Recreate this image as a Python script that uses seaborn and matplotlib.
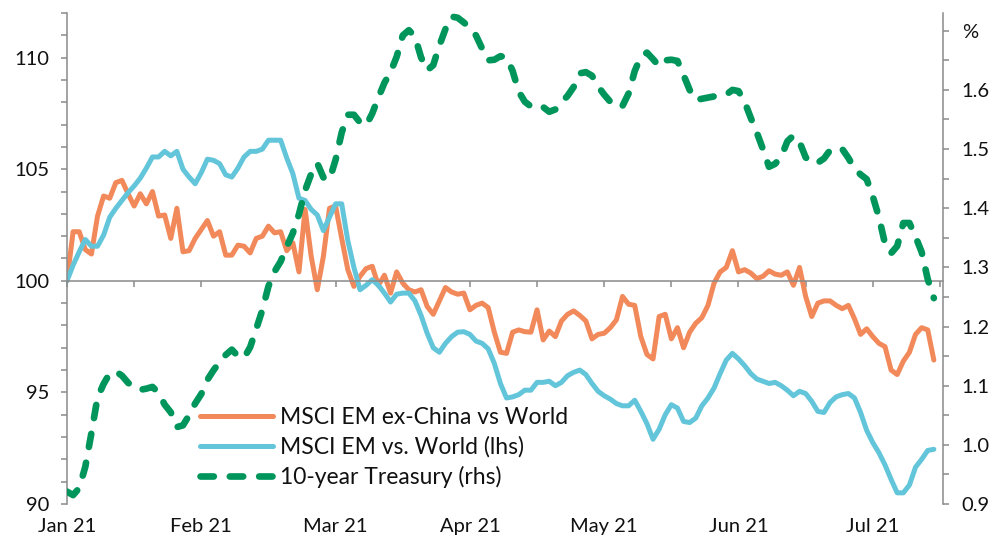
import numpy as np
import pandas as pd
import matplotlib
matplotlib.use("Agg")
import matplotlib.pyplot as plt
import seaborn as sns
from matplotlib.ticker import MultipleLocator, FixedLocator, FuncFormatter

# ---------------- data ----------------
month_labels = ["Jan 21", "Feb 21", "Mar 21", "Apr 21", "May 21", "Jun 21", "Jul 21"]
series_names = ["MSCI EM ex-China vs World", "MSCI EM vs. World (lhs)", "10-year Treasury (rhs)"]

em_ex_china = [100.0, 102.2, 102.2, 101.4, 101.2, 102.9, 103.8, 103.7, 104.4, 104.5,
               103.9, 103.35, 103.9, 103.45, 104.0, 102.9, 102.95, 101.9, 103.25, 101.3,
               101.35, 101.9, 102.3, 102.7, 102.0, 102.2, 101.15, 101.15, 101.6, 101.55,
               101.25, 101.9, 102.0, 102.45, 102.15, 102.2, 101.35, 101.7, 100.4, 103.2,
               101.1, 99.6, 101.1, 103.25, 103.35, 101.9, 100.5, 99.75, 100.2, 100.55,
               100.65, 99.8, 100.25, 99.45, 100.4, 99.9, 99.6, 99.5, 99.6, 98.85,
               98.5, 99.1, 99.7, 99.5, 99.4, 99.45, 98.7, 98.9, 99.0, 98.8,
               97.7, 96.8, 96.75, 97.7, 97.8, 97.72, 97.7, 98.7, 97.35, 97.75,
               97.5, 98.2, 98.5, 98.65, 98.45, 98.2, 97.4, 97.6, 97.65, 97.9,
               98.25, 99.3, 98.95, 98.9, 97.5, 96.7, 96.5, 98.4, 98.5, 97.4,
               97.9, 97.0, 97.7, 98.1, 98.35, 98.9, 99.9, 100.4, 100.6, 101.35,
               100.4, 100.5, 100.35, 100.1, 100.2, 100.45, 100.3, 100.25, 100.4, 99.8,
               100.6, 99.3, 98.4, 99.0, 99.1, 99.1, 98.9, 98.75, 98.9, 98.3,
               97.6, 97.85, 97.5, 97.2, 97.05, 96.0, 95.8, 96.4, 96.8, 97.6,
               97.9, 97.8, 96.45]

em_vs_world = [100.0, 100.7, 101.3, 101.85, 101.55, 101.55, 102.05, 102.85, 103.25, 103.6,
               103.95, 104.25, 104.6, 105.05, 105.55, 105.55, 105.8, 105.6, 105.8, 105.0,
               104.65, 104.35, 104.85, 105.45, 105.4, 105.25, 104.75, 104.65, 105.05, 105.55,
               105.8, 105.8, 105.9, 106.3, 106.3, 106.3, 105.5, 104.8, 103.7, 103.6,
               103.2, 102.95, 102.25, 102.85, 103.45, 103.45, 101.8, 100.6, 99.6, 99.8,
               100.05, 99.8, 99.45, 99.05, 99.4, 99.45, 99.45, 99.1, 98.45, 97.65,
               97.0, 96.8, 97.2, 97.5, 97.7, 97.72, 97.6, 97.3, 97.2, 96.95,
               96.3, 95.4, 94.75, 94.8, 94.9, 95.1, 95.1, 95.45, 95.45, 95.5,
               95.3, 95.45, 95.75, 95.9, 96.0, 95.8, 95.4, 95.05, 94.85, 94.7,
               94.5, 94.4, 94.4, 94.65, 94.15, 93.6, 92.9, 93.35, 94.0, 94.45,
               94.3, 93.7, 93.65, 93.85, 94.4, 94.75, 95.2, 95.85, 96.45, 96.75,
               96.5, 96.2, 95.85, 95.6, 95.5, 95.4, 95.45, 95.3, 95.1, 94.85,
               95.05, 94.95, 94.6, 94.15, 94.1, 94.55, 94.8, 94.9, 94.95, 94.75,
               94.1, 93.3, 92.75, 92.3, 91.75, 91.1, 90.5, 90.5, 90.85, 91.65,
               92.0, 92.4, 92.45]

treasury_10y = [0.921, 0.915, 0.927, 0.963, 1.020, 1.080, 1.103, 1.121, 1.124, 1.117,
                1.105, 1.096, 1.093, 1.095, 1.098, 1.088, 1.068, 1.055, 1.030, 1.033,
                1.050, 1.070, 1.086, 1.110, 1.126, 1.140, 1.152, 1.161, 1.150, 1.147,
                1.165, 1.196, 1.228, 1.268, 1.293, 1.310, 1.335, 1.358, 1.390, 1.430,
                1.458, 1.476, 1.452, 1.448, 1.482, 1.528, 1.558, 1.558, 1.545, 1.540,
                1.560, 1.587, 1.612, 1.630, 1.656, 1.692, 1.701, 1.690, 1.655, 1.633,
                1.642, 1.675, 1.703, 1.724, 1.722, 1.714, 1.705, 1.692, 1.670, 1.650,
                1.651, 1.657, 1.655, 1.632, 1.597, 1.580, 1.572, 1.575, 1.571, 1.563,
                1.567, 1.579, 1.590, 1.605, 1.628, 1.630, 1.624, 1.606, 1.592, 1.580,
                1.571, 1.573, 1.594, 1.632, 1.656, 1.663, 1.652, 1.640, 1.650, 1.651,
                1.649, 1.625, 1.600, 1.583, 1.585, 1.587, 1.589, 1.590, 1.592, 1.600,
                1.598, 1.580, 1.553, 1.528, 1.500, 1.470, 1.475, 1.487, 1.513, 1.523,
                1.512, 1.486, 1.476, 1.477, 1.484, 1.498, 1.502, 1.500, 1.485, 1.467,
                1.457, 1.449, 1.420, 1.385, 1.340, 1.324, 1.336, 1.375, 1.375, 1.352,
                1.326, 1.280, 1.248]

left_ticks = [90, 95, 100, 105, 110]
right_ticks = [0.9, 1.0, 1.1, 1.2, 1.3, 1.4, 1.5, 1.6, 1.7]

# ---------------- style ----------------
ORANGE = "#F2895A"
BLUE = "#63C5DA"
GREEN = "#00965B"
GREY = "#8A8A8A"
TXT = "#111111"
FS_TICK = 14.5
FS_LEG = 16.5

sns.set_theme(style="white")
plt.rcParams["font.family"] = ["Lato", "DejaVu Sans"]

df = pd.DataFrame({"day": np.arange(len(em_ex_china)),
                   "ex": em_ex_china, "em": em_vs_world, "ust": treasury_10y})

W, H = 995, 537
fig = plt.figure(figsize=(W / 100, H / 100), dpi=100)
ax = fig.add_axes([67 / W, 1 - 504 / H, 876 / W, 491 / H])

sns.lineplot(data=df, x="day", y="ex", ax=ax, color=ORANGE, linewidth=3.6,
             estimator=None, label=series_names[0])
sns.lineplot(data=df, x="day", y="em", ax=ax, color=BLUE, linewidth=3.6,
             estimator=None, label=series_names[1])
ax2 = ax.twinx()
sns.lineplot(data=df, x="day", y="ust", ax=ax2, color=GREEN, linewidth=4.8,
             estimator=None, label=series_names[2])
gl = ax2.get_lines()[0]
gl.set_dashes([2.0, 2.4])
gl.set_dash_capstyle("round")
for l in ax.get_lines():
    l.set_solid_joinstyle("round")

for a in (ax, ax2):
    if a.get_legend() is not None:
        a.get_legend().remove()
    a.set_xlabel("")
    a.set_ylabel("")
    a.grid(False)

ax.set_xlim(0, 143.5)
ax.set_ylim(90, 112)
ax2.set_ylim(0.9, 1.73)

# spines
for s in ["top", "right"]:
    ax.spines[s].set_visible(False)
for s in ["top", "left", "bottom"]:
    ax2.spines[s].set_visible(False)
ax.spines["bottom"].set_position(("data", 100))
for sp in [ax.spines["left"], ax.spines["bottom"], ax2.spines["right"]]:
    sp.set_color(GREY)
    sp.set_linewidth(1.1)
ax.set_zorder(1)
ax2.set_zorder(2)

# x ticks: every 11 days, label every 22
ax.xaxis.set_major_locator(MultipleLocator(11))
ax.xaxis.set_major_formatter(FuncFormatter(
    lambda v, p: month_labels[int(round(v)) // 22] if int(round(v)) % 22 == 0 and int(round(v)) // 22 < len(month_labels) else ""))
ax.tick_params(axis="x", direction="out", length=4.5, width=1.1, color=GREY,
               labelsize=FS_TICK, labelcolor=TXT, pad=166, bottom=True)

# left y
ax.yaxis.set_major_locator(FixedLocator(left_ticks))
ax.yaxis.set_minor_locator(MultipleLocator(1))
ax.tick_params(axis="y", which="both", direction="out", length=4.5, width=1.1,
               color=GREY, left=True, labelsize=FS_TICK, labelcolor=TXT, pad=8)

# right y
ax2.yaxis.set_major_locator(FixedLocator(right_ticks))
ax2.yaxis.set_minor_locator(FixedLocator([0.95, 1.05, 1.15, 1.25, 1.35, 1.45, 1.55, 1.65]))
ax2.yaxis.set_major_formatter(FuncFormatter(lambda v, p: "%" if abs(v - 1.7) < 1e-6 else f"{v:.1f}"))
ax2.tick_params(axis="y", which="both", direction="out", length=4.5, width=1.1,
                color=GREY, right=True, labelsize=FS_TICK, labelcolor=TXT, pad=9)

# legend
handles = ax.get_lines()[:2] + [gl]
leg = ax2.legend(handles, series_names, loc="upper left",
                 bbox_to_anchor=(200 / W, 1 - 407 / H), bbox_transform=fig.transFigure,
                 frameon=False, fontsize=FS_LEG, handlelength=3.2, handletextpad=0.3,
                 borderpad=0, borderaxespad=0, labelspacing=0.36)
for t in leg.get_texts():
    t.set_color(TXT)

fig.savefig("out.png", dpi=100, facecolor="white")
